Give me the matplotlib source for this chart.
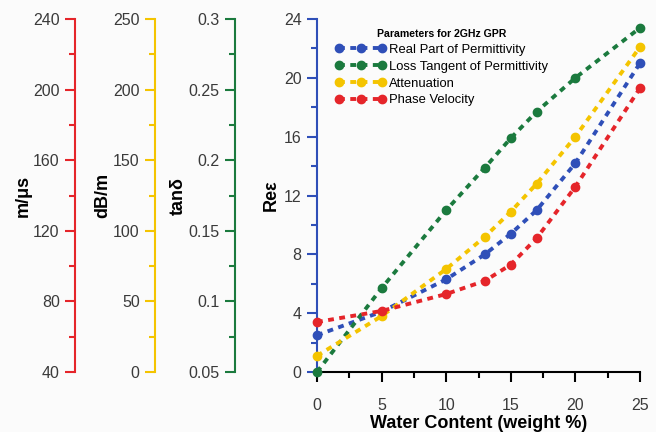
import matplotlib.pyplot as plt
from matplotlib.ticker import MultipleLocator, FuncFormatter

plt.rcParams['font.family'] = ['Liberation Sans', 'DejaVu Sans']

# water content (weight %)
water = [0, 5, 10, 13, 15, 17, 20, 25]

# values on the Re(eps) scale
real_perm = [2.5, 4.1, 6.3, 8.0, 9.4, 11.0, 14.2, 21.0]
loss_tan = [0.0, 5.7, 11.0, 13.9, 15.9, 17.7, 20.0, 23.4]
attenuation = [1.1, 3.8, 7.0, 9.2, 10.9, 12.8, 16.0, 22.1]
phase_vel = [3.4, 4.15, 5.3, 6.2, 7.3, 9.1, 12.6, 19.3]

labels = ['Real Part of Permittivity', 'Loss Tangent of Permittivity',
          'Attenuation', 'Phase Velocity']
colors = ['#2f4fb8', '#1b7a3e', '#f4c400', '#e5252a']

W, H = 656, 432
fig = plt.figure(figsize=(W / 100, H / 100), dpi=100)
fig.patch.set_facecolor('#fbfbfb')

bot = (H - 372) / H
top = (H - 19) / H
ax = fig.add_axes([317 / W, bot, (640 - 317) / W, top - bot])
ax.set_facecolor('none')

for y, lab, c in zip([real_perm, loss_tan, attenuation, phase_vel], labels, colors):
    ax.plot(water, y, ls=(0, (1.5, 1.4)), lw=2.8, color=c, marker='o', ms=6,
            label=lab, clip_on=False, zorder=3)

ax.set_xlim(0, 25)
ax.set_ylim(0, 24)
ax.xaxis.set_major_locator(MultipleLocator(5))
ax.xaxis.set_minor_locator(MultipleLocator(2.5))
ax.yaxis.set_major_locator(MultipleLocator(4))
ax.yaxis.set_minor_locator(MultipleLocator(2))
for s in ['top', 'right']:
    ax.spines[s].set_visible(False)
ax.spines['left'].set_color('#2f4fb8')
ax.spines['left'].set_linewidth(1.5)
ax.spines['bottom'].set_linewidth(1.5)
ax.tick_params(axis='both', which='major', length=7, width=1.5, labelsize=11.5,
               labelcolor='#3a3a3a', pad=4)
ax.tick_params(axis='x', which='major', pad=12)
ax.tick_params(axis='both', which='minor', length=4, width=1.5)
ax.tick_params(axis='y', which='both', color='#2f4fb8')
ax.set_xlabel('Water Content (weight %)', fontsize=13, fontweight='bold', labelpad=1)
ax.set_ylabel('Reε', fontsize=13, fontweight='bold', labelpad=3)

leg = ax.legend(loc='upper left', bbox_to_anchor=(0.02, 1.005), frameon=False,
                numpoints=3, handlelength=3.9, handletextpad=0.25, labelspacing=0.36,
                fontsize=9.4, title='Parameters for 2GHz GPR',
                title_fontproperties={'weight': 'bold', 'size': 7.6})

# separate scales on the left
scales = [
    (75, '#e5252a', 40, 240, 40, 20, 'm/μs'),
    (155, '#f4c400', 0, 250, 50, 25, 'dB/m'),
    (235, '#1b7a3e', 0.05, 0.3, 0.05, 0.025, 'tanδ'),
]
for xp, c, lo, hi, maj, mnr, lab in scales:
    a = fig.add_axes([xp / W, bot, 0.0001, top - bot])
    a.set_facecolor('none')
    a.set_ylim(lo, hi)
    a.set_xticks([])
    for s in ['top', 'right', 'bottom']:
        a.spines[s].set_visible(False)
    a.spines['left'].set_color(c)
    a.spines['left'].set_linewidth(1.5)
    a.yaxis.set_major_locator(MultipleLocator(maj))
    a.yaxis.set_minor_locator(MultipleLocator(mnr))
    a.yaxis.set_major_formatter(FuncFormatter(lambda v, p: f'{round(v, 6):g}'))
    a.tick_params(axis='y', which='major', length=7, width=1.5, color=c,
                  labelsize=11.5, labelcolor='#3a3a3a', pad=4)
    a.tick_params(axis='y', which='minor', length=4, width=1.5, color=c)
    a.set_ylabel(lab, fontsize=13, fontweight='bold', labelpad=1)

fig.savefig('out.png', dpi=100, facecolor=fig.get_facecolor())
